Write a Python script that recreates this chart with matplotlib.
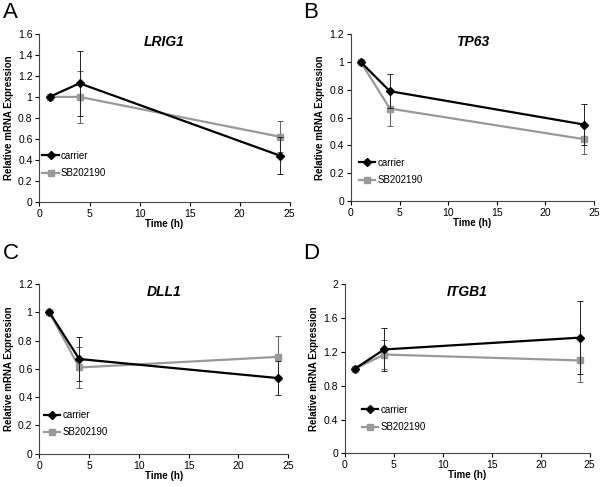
import matplotlib
matplotlib.use('Agg')
import matplotlib.pyplot as plt

plt.rcParams['font.family'] = ['Liberation Sans', 'DejaVu Sans']

# time points (h)
time = [1, 4, 24]

# panel A - LRIG1
lrig1_carrier = [1.0, 1.13, 0.44]
lrig1_carrier_err = [0.0, 0.31, 0.18]
lrig1_sb = [1.0, 1.0, 0.62]
lrig1_sb_err = [0.0, 0.25, 0.15]

# panel B - TP63
tp63_carrier = [1.0, 0.79, 0.55]
tp63_carrier_err = [0.0, 0.12, 0.15]
tp63_sb = [1.0, 0.665, 0.445]
tp63_sb_err = [0.0, 0.125, 0.105]

# panel C - DLL1
dll1_carrier = [1.0, 0.67, 0.535]
dll1_carrier_err = [0.0, 0.155, 0.12]
dll1_sb = [1.0, 0.61, 0.685]
dll1_sb_err = [0.0, 0.145, 0.145]

# panel D - ITGB1
itgb1_carrier = [1.0, 1.23, 1.37]
itgb1_carrier_err = [0.0, 0.26, 0.43]
itgb1_sb = [1.0, 1.17, 1.10]
itgb1_sb_err = [0.0, 0.17, 0.25]

yticks_a = [0, 0.2, 0.4, 0.6, 0.8, 1, 1.2, 1.4, 1.6]
yticks_bc = [0, 0.2, 0.4, 0.6, 0.8, 1, 1.2]
yticks_d = [0, 0.4, 0.8, 1.2, 1.6, 2]

panels = [
    ('A', 'LRIG1', lrig1_carrier, lrig1_carrier_err, lrig1_sb, lrig1_sb_err, yticks_a,
     [0.0655, 0.586, 0.415, 0.344], (0.012, 0.14), (0.005, 0.995)),
    ('B', 'TP63', tp63_carrier, tp63_carrier_err, tp63_sb, tp63_sb_err, yticks_bc,
     [0.582, 0.587, 0.403, 0.343], (0.035, 0.097), (0.502, 0.995)),
    ('C', 'DLL1', dll1_carrier, dll1_carrier_err, dll1_sb, dll1_sb_err, yticks_bc,
     [0.0655, 0.0685, 0.412, 0.348], (0.017, 0.097), (0.005, 0.502)),
    ('D', 'ITGB1', itgb1_carrier, itgb1_carrier_err, itgb1_sb, itgb1_sb_err, yticks_d,
     [0.572, 0.069, 0.406, 0.347], (0.07, 0.127), (0.502, 0.502)),
]

fig = plt.figure(figsize=(6.03, 4.87), dpi=100)

for letter, gene, car, car_err, sb, sb_err, yt, pos, legpos, letpos in panels:
    ax = fig.add_axes(pos)
    # error bars first, then the lines/markers (used for the legend)
    ax.errorbar(time, car, yerr=car_err, fmt='none', ecolor='#222222',
                elinewidth=0.7, capsize=2, capthick=0.7, zorder=3)
    ax.errorbar(time, sb, yerr=sb_err, fmt='none', ecolor='#666666',
                elinewidth=0.8, capsize=2, capthick=0.7, zorder=2)
    ax.plot(time, car, color='black', marker='D', markersize=4, linewidth=1.6,
            label='carrier', zorder=4)
    ax.plot(time, sb, color='#999999', marker='s', markersize=5, linewidth=1.6,
            label='SB202190', zorder=2.5)
    ax.set_xlim(0, 25)
    ax.set_ylim(yt[0], yt[-1])
    ax.set_xticks([0, 5, 10, 15, 20, 25])
    ax.set_yticks(yt)
    ax.set_yticklabels(['%g' % v for v in yt])
    ax.tick_params(labelsize=7.5, length=3, width=0.8, direction='out', pad=2)
    ax.spines['top'].set_visible(False)
    ax.spines['right'].set_visible(False)
    ax.spines['left'].set_color('#444444')
    ax.spines['bottom'].set_color('#444444')
    ax.set_xlabel('Time (h)', fontsize=7, fontweight='bold', labelpad=0)
    ax.set_ylabel('Relative mRNA Expression', fontsize=7, fontweight='bold', labelpad=3)
    ax.set_title(gene, fontsize=10, fontweight='bold', style='italic', y=0.88)
    ax.legend(loc='lower left', bbox_to_anchor=legpos, frameon=False, fontsize=7,
              handlelength=1.65, handletextpad=0.25, borderaxespad=0, borderpad=0,
              labelspacing=0.75)
    fig.text(letpos[0], letpos[1], letter, fontsize=16, ha='left', va='top')

fig.savefig('out.png', dpi=100)
